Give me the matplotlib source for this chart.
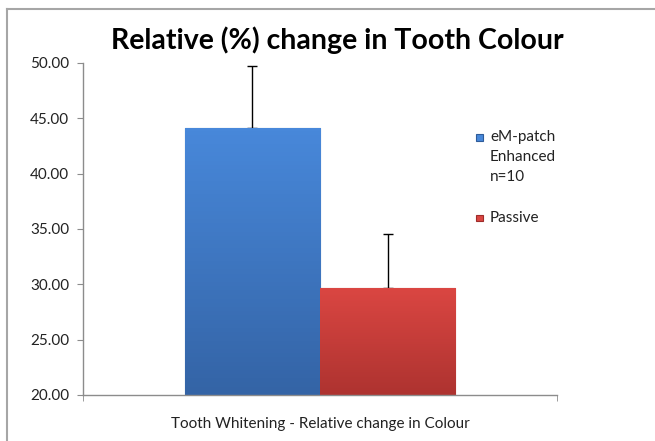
#!/usr/bin/env python3

import numpy as np
import matplotlib as mpl
import matplotlib.pyplot as plt
from matplotlib.lines import Line2D
from matplotlib.patches import Rectangle

# chart data
category = "Tooth Whitening - Relative change in Colour"
series = ["eM-patch\nEnhanced\nn=10", "Passive"]
values = [44.15, 29.65]
errors = [5.55, 4.9]
yticks = [20, 25, 30, 35, 40, 45, 50]


def gradient_bar(ax, bar, top, bottom):
    """
    Fill a bar with a vertical colour gradient
    """
    cmap = mpl.colors.LinearSegmentedColormap.from_list('g', [bottom, top])
    x0, y0 = bar.get_x(), bar.get_y()
    w, h = bar.get_width(), bar.get_height()
    grad = np.linspace(0, 1, 64).reshape(-1, 1)
    im = ax.imshow(grad, cmap=cmap, origin='lower', aspect='auto',
                   extent=[x0, x0 + w, y0, y0 + h], zorder=bar.get_zorder())
    im.set_clip_path(bar)


def plot_chart(output_fn):
    plt.rcParams['font.family'] = ['Lato', 'DejaVu Sans']
    fig = plt.figure(figsize=[6.55, 4.41], dpi=100)
    ax = fig.add_axes([83 / 655, 1 - 395 / 441, 474 / 655, 332 / 441])

    ymin, ymax = yticks[0], yticks[-1]
    width = 0.285
    xs = [-width / 2, width / 2]
    colors_top = ['#4888DA', '#DA4642']
    colors_bot = ['#3464A6', '#AE3330']
    edges = ['#2F5C9A', '#9E2C2A']

    heights = [v - ymin for v in values]
    bars = ax.bar(xs, heights, width=width, bottom=ymin, color=colors_top,
                  edgecolor=edges, linewidth=0.8, zorder=2)
    for b, t, bt in zip(bars, colors_top, colors_bot):
        gradient_bar(ax, b, t, bt)
    # drawn under the bars so only the upper half shows
    ax.errorbar(xs, values, yerr=[[0, 0], errors], fmt='none',
                ecolor='black', elinewidth=1, capsize=3.5, capthick=1,
                zorder=1.5)

    ax.set_xlim(-0.5, 0.5)
    ax.set_ylim(ymin, ymax)
    ax.set_yticks(yticks)
    ax.set_yticklabels([f'{v:.2f}' for v in yticks])
    ax.set_xticks([0])
    ax.set_xticklabels([category])
    ax.set_xticks([-0.5, 0.5], minor=True)
    ax.tick_params(axis='x', which='major', length=0, pad=16,
                   labelsize=11, labelcolor='#222222')
    ax.tick_params(axis='x', which='minor', length=4, color='#8C8C8C')
    ax.tick_params(axis='y', length=4, color='#8C8C8C', labelsize=11,
                   labelcolor='#222222', pad=6)
    for s in ['top', 'right']:
        ax.spines[s].set_visible(False)
    for s in ['left', 'bottom']:
        ax.spines[s].set_color('#8C8C8C')
        ax.spines[s].set_linewidth(1)

    fig.text(337 / 655, 1 - 40 / 441, 'Relative (%) change in Tooth Colour',
             ha='center', va='center', fontsize=20.5, fontweight='bold')

    # legend, handle next to the first line of each label
    leg_y = [137, 218]
    for i, lab in enumerate(series):
        yf = 1 - leg_y[i] / 441
        fig.add_artist(Rectangle((476 / 655, yf - 3.5 / 441), 7 / 655,
                                 7 / 441, facecolor=colors_top[i],
                                 edgecolor=edges[i], linewidth=0.8,
                                 transform=fig.transFigure))
        fig.text(490 / 655, yf + 7 / 441, lab, ha='left', va='top',
                 fontsize=11, linespacing=1.55, color='#222222')

    # chart frame
    fig.add_artist(Line2D([7 / 655, 7 / 655], [0, 1 - 9 / 441],
                          color='#A6A6A6', linewidth=1.5))
    fig.add_artist(Line2D([7 / 655, 1], [1 - 9 / 441, 1 - 9 / 441],
                          color='#A6A6A6', linewidth=1.5))

    plt.savefig(output_fn)


if __name__ == "__main__":
    plot_chart('out.png')
